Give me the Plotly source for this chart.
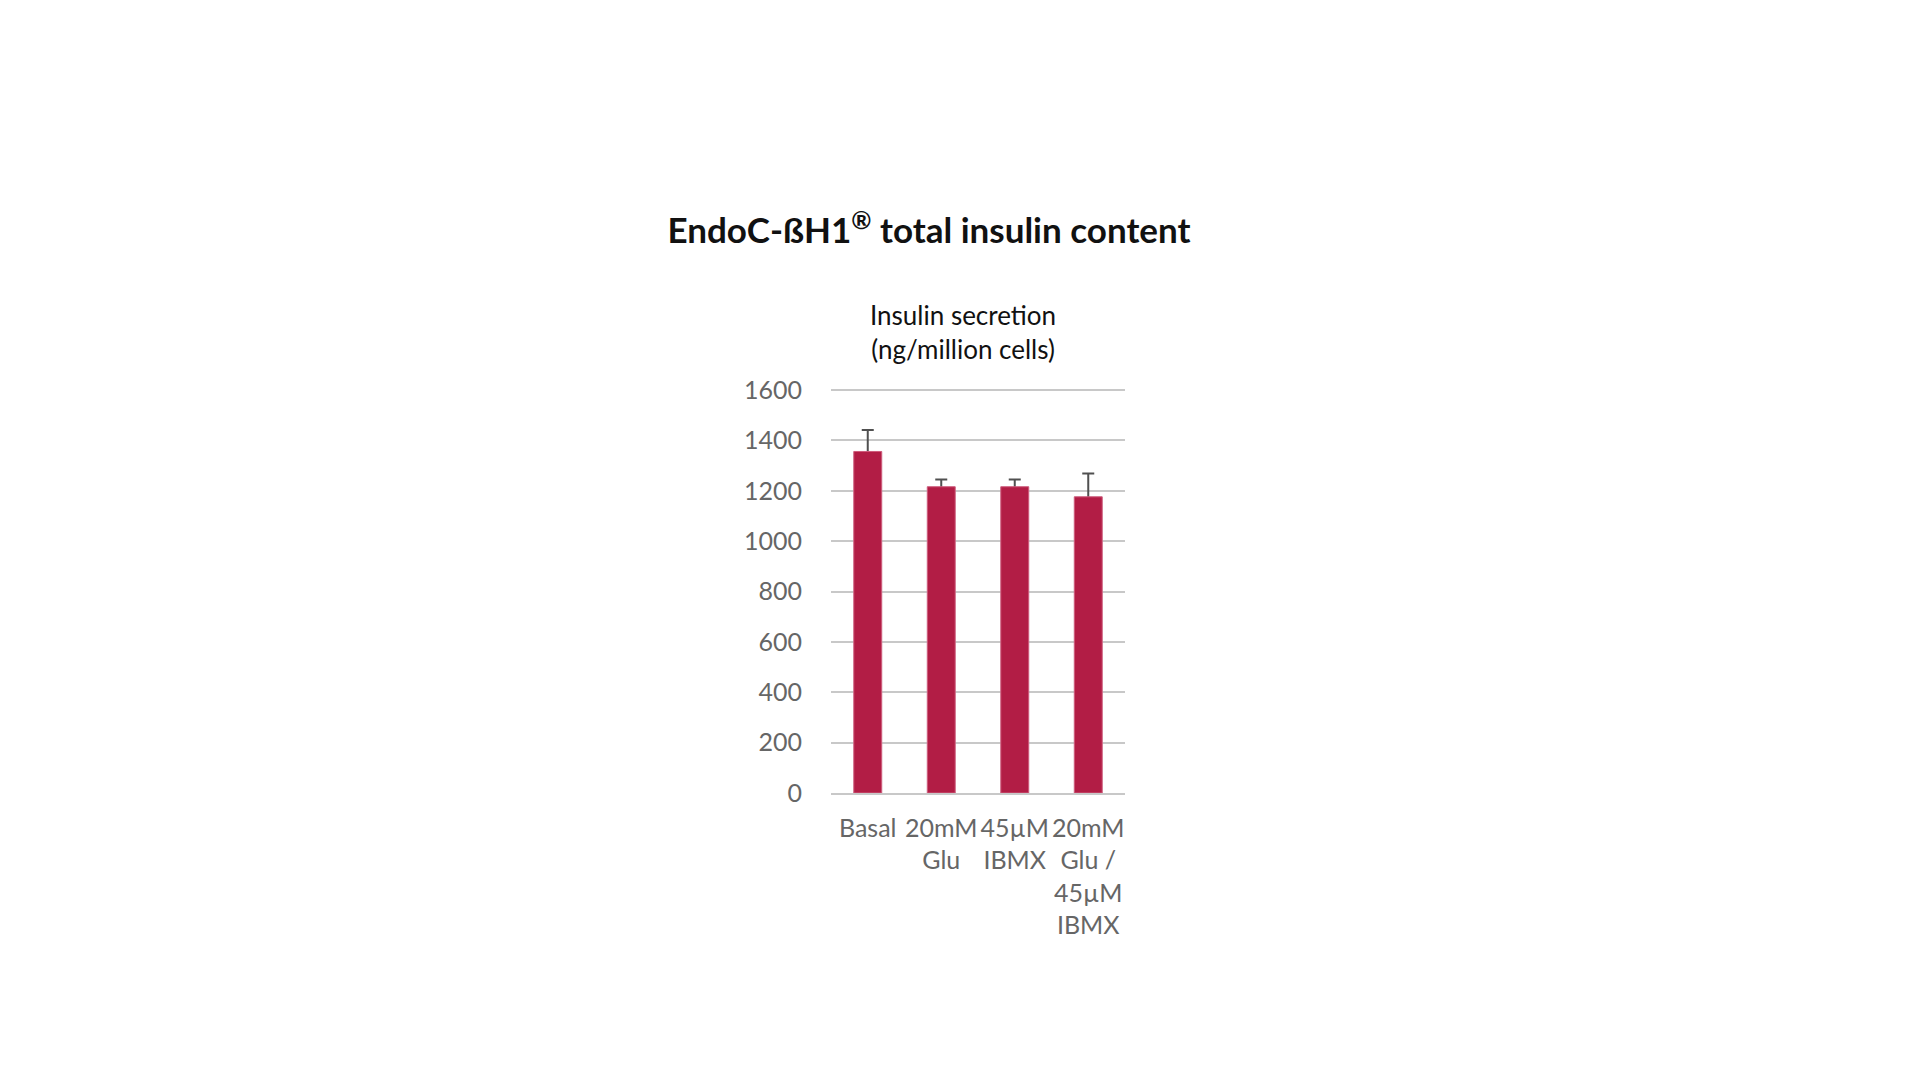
import plotly.graph_objects as go

# data
conditions = ["Basal", "20mM Glu", "45µM IBMX", "20mM Glu / 45µM IBMX"]
tick_labels = ["Basal", "20mM<br>Glu", "45µM<br>IBMX", "20mM<br>Glu /<br>45µM<br>IBMX"]
insulin = [1356, 1216, 1216, 1176]
insulin_err = [85, 29, 29, 93]
y_ticks = [0, 200, 400, 600, 800, 1000, 1200, 1400, 1600]

bar_color = "#B21D45"
grey_text = "#666666"
font_family = "Lato, 'Open Sans', sans-serif"

fig = go.Figure()

# invisible copy carrying the error bars, so the real bars cover the lower half
fig.add_trace(go.Bar(
    x=conditions, y=insulin,
    marker=dict(color="rgba(0,0,0,0)"),
    error_y=dict(type="data", array=insulin_err, symmetric=True,
                 color="#505050", thickness=2, width=6),
    hoverinfo="skip", showlegend=False,
))
fig.add_trace(go.Bar(
    x=conditions, y=insulin,
    marker=dict(color=bar_color, line=dict(color="#CF5C7C", width=1)),
    showlegend=False,
))

fig.update_layout(
    width=1920, height=1080,
    paper_bgcolor="white", plot_bgcolor="white",
    barmode="overlay", bargap=0.62,
    margin=dict(l=823, r=803, t=379, b=295),
    font=dict(family=font_family, color=grey_text, size=25),
    title=dict(
        text="<b>EndoC-ßH1<sup>®</sup> total insulin content</b>",
        font=dict(family=font_family, size=35, color="#111111"),
        x=921 / 1920, xanchor="center", xref="container",
        y=1 - 223 / 1080, yanchor="middle", yref="container",
    ),
)

fig.update_xaxes(
    tickvals=conditions, ticktext=tick_labels,
    showline=True, linecolor="#C8C8C8", linewidth=1.5,
    showgrid=False, ticks="", ticklabelstandoff=12,
    tickfont=dict(size=25, color=grey_text),
)
fig.update_yaxes(
    range=[0, 1612], tickvals=y_ticks,
    showgrid=True, gridcolor="#C8C8C8", gridwidth=1.5,
    zeroline=False, ticks="", ticklabelstandoff=28,
    tickfont=dict(size=25, color=grey_text),
)

fig.add_annotation(
    text="Insulin secretion<br>(ng/million cells)",
    xref="paper", yref="paper", x=(963 - 831) / 294, y=1 + (379 - 324) / 406,
    xanchor="center", yanchor="middle", showarrow=False,
    font=dict(family=font_family, size=26, color="#111111"),
)

fig.write_html("out.html")
